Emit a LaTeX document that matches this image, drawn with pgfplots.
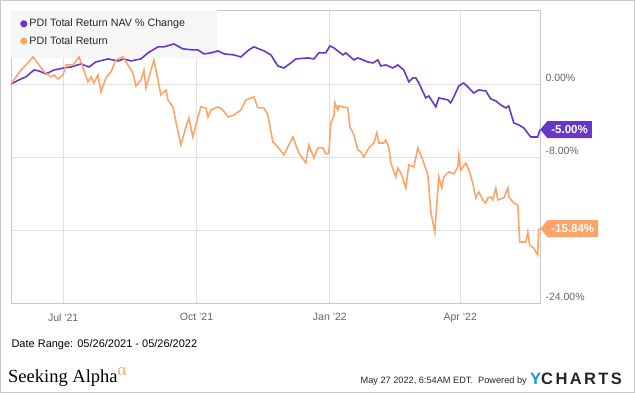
\documentclass[border=0pt]{standalone}
\usepackage{fontspec}
\setmainfont{Liberation Sans}
\newfontfamily\seriffont{Liberation Serif}
\usepackage{pgfplots}
\pgfplotsset{compat=1.18}
\usetikzlibrary{shapes.symbols}
\definecolor{ycpurple}{RGB}{103,56,200}
\definecolor{ycorange}{RGB}{253,164,106}
\definecolor{ycblue}{RGB}{20,150,230}
\definecolor{gridgray}{RGB}{224,224,224}
\definecolor{framegray}{RGB}{200,200,200}
\definecolor{labgray}{RGB}{102,102,102}
\definecolor{legbg}{RGB}{246,246,246}
\pgfplotstableread{
x y
0 0.00
6.9 0.55
10.3 0.77
15.9 1.53
19.3 1.42
24.1 1.10
29.7 1.53
36.6 1.75
41.4 1.86
48.3 2.19
53.8 1.86
58.6 2.41
66.9 2.74
73.8 2.52
77.9 2.74
82.8 2.52
89.7 2.74
94.5 3.40
101.4 4.06
105.5 4.06
112.4 4.38
118.6 3.84
125.5 3.73
129.0 3.73
133.1 3.29
137.9 3.40
142.8 3.62
146.9 3.29
153.8 3.18
158.6 2.96
164.1 3.73
167.6 4.06
174.5 3.62
179.3 3.18
184.1 1.97
188.3 1.75
193.1 2.30
196.6 2.74
204.8 2.85
209.0 2.74
212.4 3.40
217.2 3.40
220.0 4.16
222.8 3.95
229.0 3.18
231.0 3.40
236.6 2.63
239.3 2.85
246.2 2.41
249.7 2.30
253.1 2.63
255.2 1.97
258.6 2.08
263.4 1.75
266.9 2.08
271.0 1.53
274.5 0.22
277.2 0.66
279.3 0.66
281.4 0.11
286.2 -1.53
288.3 -1.32
293.1 -2.52
295.2 -1.53
301.4 -1.75
303.4 -2.08
305.5 -1.42
309.0 -0.22
312.4 0.11
315.2 -0.33
319.3 -0.99
322.8 -0.66
327.6 -0.77
331.0 -1.64
334.5 -1.86
337.9 -2.30
341.4 -2.63
343.4 -2.41
346.9 -4.27
350.3 -4.49
353.8 -4.82
358.6 -5.81
363.4 -5.81
365 -5.00
}\navdata
\pgfplotstableread{
x y
0 0.00
6.9 1.53
10.3 2.08
15.2 2.96
19.3 2.08
22.8 1.32
27.6 0.77
29.7 0.99
32.4 0.55
35.9 0.99
37.9 2.08
42.8 2.08
46.9 2.96
49.7 1.75
53.1 0.22
55.2 0.77
57.2 0.11
60.0 0.99
62.1 -0.88
65.5 0.66
69.0 1.32
72.4 2.63
77.2 2.96
80.7 2.08
84.1 1.21
86.2 -0.22
89.7 0.44
91.7 1.53
93.1 -0.44
95.2 0.77
98.6 2.63
101.4 0.44
103.4 -1.21
106.9 -0.66
108.3 -1.75
111.7 -2.52
113.8 -4.16
117.2 -6.69
120.7 -4.71
122.8 -3.73
125.5 -5.81
129.0 -3.62
131.0 -2.52
134.5 -2.63
135.9 -3.62
137.9 -2.85
142.8 -2.52
146.2 -2.85
149.7 -3.62
153.8 -3.40
158.6 -2.85
162.1 -1.75
167.6 -1.42
170.3 -2.63
174.5 -2.63
177.2 -3.40
180.7 -6.36
184.1 -6.90
188.3 -7.78
191.0 -6.90
194.5 -5.81
198.6 -7.56
203.4 -8.66
205.5 -6.69
209.0 -8.11
211.7 -7.01
215.2 -7.01
217.2 -7.67
219.3 -7.56
220.7 -4.27
222.8 -3.51
223.4 -2.08
225.5 -2.85
226.2 -2.41
232.4 -2.63
233.8 -4.71
236.6 -5.59
239.3 -7.23
241.4 -7.45
243.4 -8.00
246.9 -7.01
250.3 -6.47
252.4 -5.37
253.8 -6.47
257.2 -6.47
258.6 -6.14
260.7 -7.01
262.1 -8.66
265.5 -10.19
266.9 -9.21
269.0 -9.75
272.4 -11.40
274.5 -8.88
277.9 -9.10
280.7 -7.01
284.1 -8.33
287.6 -9.97
289.7 -14.03
292.4 -16.22
295.2 -10.19
297.2 -11.40
298.6 -10.19
302.1 -9.64
305.5 -9.86
308.3 -9.10
309.0 -7.78
310.3 -9.43
313.8 -8.66
315.9 -9.43
318.6 -10.85
320.7 -12.49
322.8 -11.84
325.5 -12.71
327.6 -13.04
329.0 -12.49
331.0 -12.38
332.4 -12.71
334.5 -11.40
335.9 -12.71
340.0 -12.49
342.8 -11.40
343.4 -12.38
346.9 -13.04
349.7 -13.26
351.0 -17.32
355.2 -17.32
356.6 -16.22
357.9 -17.65
360.7 -17.98
363.4 -18.74
364.1 -16.00
365 -15.84
}\pxdata
\begin{document}
\begin{tikzpicture}[x=1pt,y=1pt]
\draw[framegray, line width=1pt] (0.5,0.5) rectangle (634.5,392.5);
\begin{axis}[
  at={(11pt,90pt)}, anchor=south west,
  scale only axis, width=529pt, height=293pt,
  xmin=0, xmax=365, ymin=-24, ymax=8.1,
  axis line style={draw=framegray, line width=0.8pt},
  grid=major, major grid style={draw=gridgray, line width=0.8pt},
  major tick length=0pt,
  xtick={36,128,220,310},
  xticklabels={Jul '21,Oct '21,Jan '22,Apr '22},
  ytick={-24,-16,-8,0},
  yticklabels={-24.00\%,,-8.00\%,0.00\%},
  yticklabel pos=right,
  yticklabel style={anchor=west, yshift=6pt, xshift=2pt, font=\fontsize{10.5}{12}\selectfont, text=labgray},
  xticklabel style={yshift=-7pt, font=\fontsize{10.5}{12}\selectfont, text=labgray},
  clip=false,
  legend style={at={(0,1)}, anchor=north west, fill=none, draw=none,
    font=\fontsize{10.7}{13}\selectfont, inner xsep=9pt, inner ysep=7pt, row sep=4pt,
    legend cell align=left, text=black!85},
  legend image code/.code={\fill[#1, draw=none] (2pt,0) circle (3.6pt);},
]
\fill[legbg] (rel axis cs:0,1) rectangle (axis cs:142.2,2.84);
\addplot[ycpurple, line width=1.6pt] table[x=x,y=y] {\navdata};
\addlegendentry{PDI Total Return NAV \% Change}
\addplot[ycorange, line width=1.6pt] table[x=x,y=y] {\pxdata};
\addlegendentry{PDI Total Return}
\node[signal, signal to=west, signal pointer angle=100, fill=ycpurple, text=white, anchor=west,
  font=\bfseries\fontsize{11.5}{13}\selectfont, inner xsep=4pt, inner ysep=2.5pt, minimum height=17pt]
  at (axis cs:365,-5.00) {-5.00\%};
\node[signal, signal to=west, signal pointer angle=100, fill=ycorange, text=white, anchor=west,
  font=\bfseries\fontsize{11.5}{13}\selectfont, inner xsep=4pt, inner ysep=2.5pt, minimum height=17pt]
  at (axis cs:365,-15.84) {-15.84\%};
\end{axis}
\node[anchor=west, font=\fontsize{11}{13}\selectfont, text=black] at (8,48.5) {Date Range: 05/26/2021 - 05/26/2022};
\node[anchor=base west, font=\seriffont\fontsize{18.5}{22}\selectfont, text=black, inner sep=0pt] at (8,10)
  {Seeking Alpha\raisebox{7pt}{\textcolor{ycorange}{\fontsize{17}{18}\selectfont α}}};
\node[anchor=base east, font=\fontsize{9.2}{12}\selectfont, text=black!85, inner sep=0pt] at (527,9.5) {May 27 2022, 6:54AM EDT.\ \ Powered by};
\node[anchor=base west, font=\bfseries\fontsize{16.5}{18}\selectfont, inner sep=0pt] at (530,8.5)
  {\textcolor{ycblue}{Y}\textcolor{black!85}{C\kern2.4pt H\kern2.4pt A\kern2.4pt R\kern2.4pt T\kern2.4pt S}};
\pgfresetboundingbox
\useasboundingbox (0,0) rectangle (635,393);
\end{tikzpicture}
\end{document}
